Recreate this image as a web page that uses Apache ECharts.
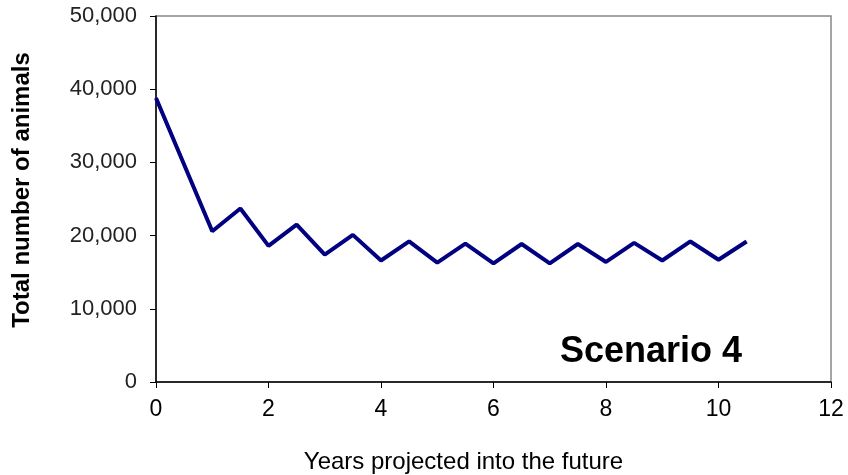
<!DOCTYPE html>
<html>
<head>
<meta charset="utf-8">
<script src="https://cdn.jsdelivr.net/npm/echarts@6/dist/echarts.min.js"></script>
<style>html,body{margin:0;padding:0;background:#fff;}#c{width:848px;height:475px;}</style>
</head>
<body>
<div id="c"></div>
<script>
const years = [0, 1, 1.5, 2, 2.5, 3, 3.5, 4, 4.5, 5, 5.5, 6, 6.5, 7, 7.5, 8, 8.5, 9, 9.5, 10, 10.5];
const animals = [38800, 20600, 23700, 18600, 21500, 17400, 20100, 16600, 19200, 16300, 18900, 16200, 18850, 16200, 18850, 16400, 19000, 16600, 19200, 16700, 19200];
const xTitle = 'Years projected into the future';
const yTitle = 'Total number of animals';
const scenarioLabel = 'Scenario 4';

const chart = echarts.init(document.getElementById('c'));
const font = '"Liberation Sans", Arial, sans-serif';
chart.setOption({
  animation: false,
  backgroundColor: '#fff',
  grid: { left: 156, right: 17, top: 16, bottom: 93, show: true, borderColor: '#888', borderWidth: 1.5,
          containLabel: false, outerBoundsMode: 'none' },
  title: {
    text: scenarioLabel, right: 101, top: 329,
    textStyle: { fontFamily: font, fontSize: 36, fontWeight: 'bold', color: '#000' }
  },
  xAxis: {
    type: 'value', min: 0, max: 12, interval: 2,
    name: xTitle, nameLocation: 'middle', nameGap: 68,
    nameTextStyle: { fontFamily: font, fontSize: 24, color: '#000', padding: [0, 60, 0, 0] },
    axisLine: { lineStyle: { color: '#000', width: 1.5 } },
    axisTick: { show: true, length: 6, lineStyle: { color: '#000' } },
    axisLabel: { fontFamily: font, fontSize: 23, color: '#000', margin: 16 },
    splitLine: { show: false }
  },
  yAxis: {
    type: 'value', min: 0, max: 50000, interval: 10000,
    name: yTitle, nameLocation: 'middle', nameGap: 122,
    nameTextStyle: { fontFamily: font, fontSize: 24, fontWeight: 'bold', color: '#000', padding: [0, 0, 0, 18] },
    axisLine: { show: true, lineStyle: { color: '#000', width: 1.5 } },
    axisTick: { show: true, length: 6, lineStyle: { color: '#000' } },
    axisLabel: { fontFamily: font, fontSize: 22, color: '#222', margin: 19,
      formatter: v => v.toLocaleString('en-US') },
    splitLine: { show: false }
  },
  series: [{
    type: 'line',
    data: years.map((x, i) => [x, animals[i]]),
    symbol: 'none',
    lineStyle: { color: '#000080', width: 4 },
    itemStyle: { color: '#000080' }
  }]
});
</script>
</body>
</html>
